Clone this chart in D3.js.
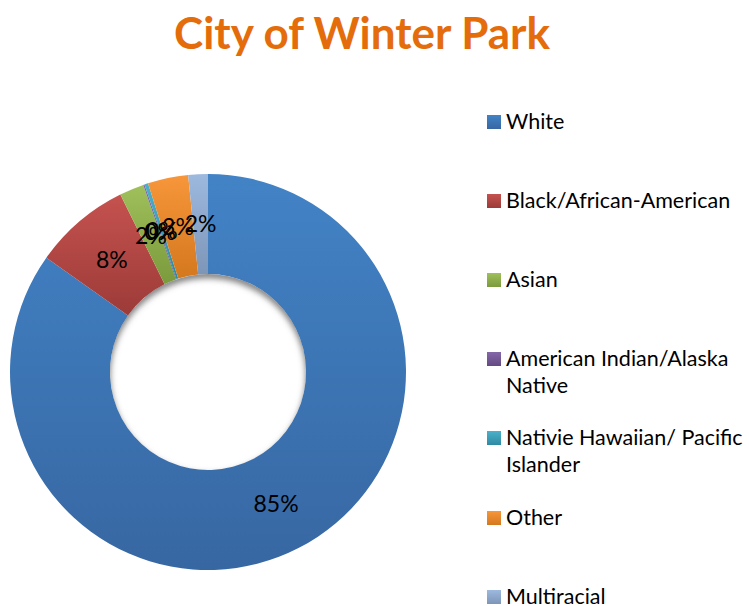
<!DOCTYPE html>
<html>
<head>
<meta charset="utf-8">
<script src="https://cdn.jsdelivr.net/npm/d3@7"></script>
<style>
  body { margin: 0; background: #fff; }
  svg { display: block; font-family: Lato, "Open Sans", sans-serif; }
</style>
</head>
<body>
<div id="chart"></div>
<script>
// === Data ===
const categories = [
  "White",
  "Black/African-American",
  "Asian",
  "American Indian/Alaska Native",
  "Nativie Hawaiian/ Pacific Islander",
  "Other",
  "Multiracial"
];
const shares = [84.8, 7.9, 2.0, 0.1, 0.3, 3.3, 1.6];
const legendLines = [
  ["White"],
  ["Black/African-American"],
  ["Asian"],
  ["American Indian/Alaska", "Native"],
  ["Nativie Hawaiian/ Pacific", "Islander"],
  ["Other"],
  ["Multiracial"]
];
const colorsTop = ["#4283C6", "#C5524F", "#A0C05C", "#8567A8", "#4DB0CA", "#F7963A", "#9DB9DE"];
const colorsBottom = ["#3767A2", "#9C3B38", "#7A9A3C", "#634A82", "#2E8AA3", "#D4781E", "#7D96B8"];

const width = 749, height = 606;
const cx = 208, cy = 372;
const outerR = 198, innerR = 98;

const svg = d3.select("#chart").append("svg")
  .attr("width", width)
  .attr("height", height);

const defs = svg.append("defs");

// vertical gradient per slice (lighter top, darker bottom)
colorsTop.forEach((c, i) => {
  const gr = defs.append("linearGradient")
    .attr("id", "grad" + i)
    .attr("x1", 0).attr("y1", 0)
    .attr("x2", 0).attr("y2", 1);
  gr.append("stop").attr("offset", "0%").attr("stop-color", c);
  gr.append("stop").attr("offset", "100%").attr("stop-color", colorsBottom[i]);
});

defs.append("filter").attr("id", "blur")
  .attr("x", "-20%").attr("y", "-20%").attr("width", "140%").attr("height", "140%")
  .append("feGaussianBlur").attr("stdDeviation", 3);

defs.append("clipPath").attr("id", "holeClip")
  .append("circle").attr("cx", cx).attr("cy", cy).attr("r", innerR);

// === Title ===
svg.append("text")
  .attr("x", 362)
  .attr("y", 49)
  .attr("text-anchor", "middle")
  .attr("font-size", "44px")
  .attr("font-weight", "bold")
  .attr("fill", "#E46C0A")
  .text("City of Winter Park");

// === Donut ===
const pieData = categories.map((key, i) => ({ key, value: shares[i], i }));
const pie = d3.pie().value(d => d.value).sort(null);
const arc = d3.arc().innerRadius(innerR).outerRadius(outerR);

const g = svg.append("g").attr("transform", `translate(${cx},${cy})`);

g.selectAll("path.slice")
  .data(pie(pieData))
  .enter()
  .append("path")
  .attr("class", "slice")
  .attr("d", arc)
  .attr("fill", d => `url(#grad${d.data.i})`)
  .attr("stroke", "none");

// inner shadow of the hole
svg.append("g")
  .attr("clip-path", "url(#holeClip)")
  .append("circle")
  .attr("cx", cx)
  .attr("cy", cy + 4)
  .attr("r", innerR + 4)
  .attr("fill", "none")
  .attr("stroke", "#777")
  .attr("stroke-width", 8)
  .attr("filter", "url(#blur)");

// === Percent labels ===
g.selectAll("text.pct")
  .data(pie(pieData))
  .enter()
  .append("text")
  .attr("class", "pct")
  .attr("transform", d => `translate(${arc.centroid(d)})`)
  .attr("text-anchor", "middle")
  .attr("dy", "0.35em")
  .attr("font-size", "23px")
  .attr("fill", "#000")
  .text(d => d3.format(".0f")(d.data.value) + "%");

// === Legend ===
const legend = svg.append("g").attr("transform", "translate(487,0)");
const rowY = [122, 201, 280, 359, 438, 518, 597];

legendLines.forEach((lines, i) => {
  const row = legend.append("g").attr("transform", `translate(0,${rowY[i]})`);
  row.append("rect")
    .attr("x", 0).attr("y", -7)
    .attr("width", 14).attr("height", 14)
    .attr("fill", `url(#grad${i})`);
  lines.forEach((t, j) => {
    row.append("text")
      .attr("x", 19)
      .attr("y", 7 + j * 27)
      .attr("font-size", "21.5px")
      .attr("fill", "#000")
      .text(t);
  });
});
</script>
</body>
</html>
